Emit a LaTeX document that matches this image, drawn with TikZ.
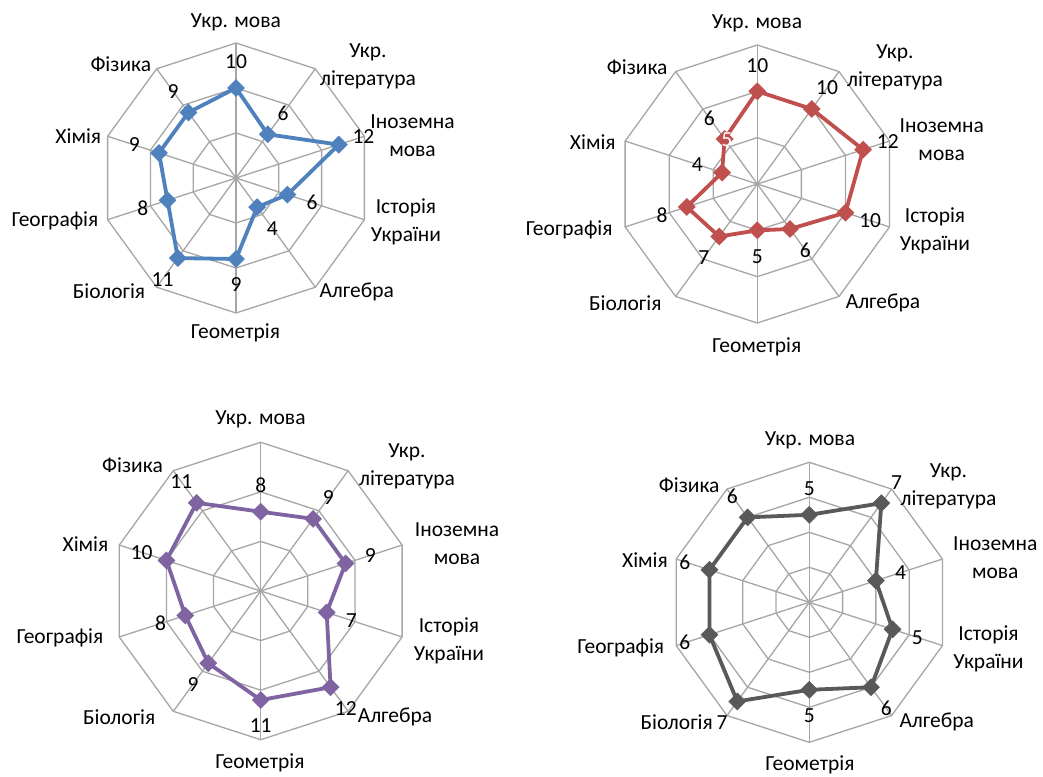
\documentclass[tikz,border=0pt]{standalone}
\usepackage{fontspec}
\setmainfont{Carlito}
\usetikzlibrary{shapes.geometric}

\definecolor{gridgray}{HTML}{A6A6A6}
\definecolor{serblue}{HTML}{4F81BD}
\definecolor{serred}{HTML}{C0504D}
\definecolor{serpurple}{HTML}{8064A2}
\definecolor{serdark}{HTML}{595959}

% subject names, axis 0 at the top, going clockwise
\newcommand\subjname[1]{\ifcase#1\relax
  Укр. мова\or Укр.\\література\or Іноземна\\мова\or Історія\\України\or
  Алгебра\or Геометрія\or Біологія\or Географія\or Хімія\or Фізика\fi}

% radar grid: #1 rings, #2 ring spacing
\newcommand\radargrid[2]{%
  \foreach \k in {1,...,#1}
    \draw[grid] (90:\k*#2) \foreach \a in {1,...,9} { -- (90-36*\a:\k*#2) } -- cycle;
  \foreach \a in {0,...,9}
    \draw[grid] (0,0) -- (90-36*\a:#1*#2);
}

% series: #1 name, #2 colour, #3 pt per unit, #4 values
\newcommand\radarseries[4]{%
  \foreach \v [count=\a from 0] in {#4}
    \coordinate (#1-p\a) at (90-36*\a:\v*#3);
  \draw[series, #2] (#1-p0) \foreach \a in {1,...,9} { -- (#1-p\a) } -- cycle;
  \foreach \a in {0,...,9}
    \node[marker, fill=#2] (#1-m\a) at (#1-p\a) {};
  \foreach \v [count=\a from 0] in {#4}
    \node[vallabel] (#1-v\a) at (90-36*\a:\v*#3+26) {\v};
}

% subject labels: #1 name, #2 list of x/y positions
\newcommand\subjectlabels[2]{%
  \foreach \x/\y [count=\a from 0] in {#2}
    \node[catlabel] (#1-c\a) at (\x,-\y) {\subjname{\a}};
}

\begin{document}
\begin{tikzpicture}[x=1pt,y=1pt,
  grid/.style={draw=gridgray, line width=1.3pt},
  series/.style={draw, line width=3.8pt, line join=round},
  marker/.style={diamond, draw=none, inner sep=0pt, minimum size=18pt},
  catlabel/.style={font=\fontsize{21.5}{28}\selectfont, align=center, inner sep=0pt, text=black},
  vallabel/.style={font=\fontsize{21.5}{26}\selectfont, inner sep=0pt, text=black}]
\useasboundingbox[fill=white] (0,0) rectangle (1043,-776);

% chart 1
\begin{scope}[shift={(236,-178)}]
  \radargrid{3}{45}
  \radarseries{one}{serblue}{9}{10,6,12,6,4,9,11,8,9,9}
\end{scope}
\subjectlabels{one}{235.8/22.7, 368/66, 412.5/136, 406/222, 356.7/291.7,
  235.5/332.7, 109/291, 55/220.7, 78.3/136, 120.8/64.3}

% chart 2
\begin{scope}[shift={(757.3,-184)}]
  \radargrid{3}{46.33}
  \radarseries{two}{serred}{9.27}{10,10,12,10,6,5,7,8,4,6}
  \node[vallabel, text=white] (two-extra) at (-30.6,44) {5};
\end{scope}
\subjectlabels{two}{757/23.3, 895/67.5, 941.7/140, 935/230.5, 883/303.3,
  756.7/346.7, 625.3/303.3, 569.2/230, 592.8/141.7, 637.2/67.3}

% chart 3
\begin{scope}[shift={(260.7,-591)}]
  \radargrid{3}{49.57}
  \radarseries{three}{serpurple}{9.91}{8,9,9,7,12,11,9,8,10,11}
\end{scope}
\subjectlabels{three}{260.5/419.3, 407/466.7, 457/543.3, 449/640.5, 395/716.7,
  260/762.7, 119.2/716.7, 60/638.3, 85.5/544, 132.5/465}

% chart 4
\begin{scope}[shift={(809.3,-602.3)}]
  \radargrid{4}{35}
  \radarseries{four}{serdark}{17.5}{5,7,4,5,6,5,7,6,6,6}
\end{scope}
\subjectlabels{four}{810/440.7, 948.5/486, 995.3/558, 988.5/649, 936.7/721.7,
  810/765, 676.7/721.7, 620.8/648.3, 645/560, 689.2/485}
\end{tikzpicture}
\end{document}
